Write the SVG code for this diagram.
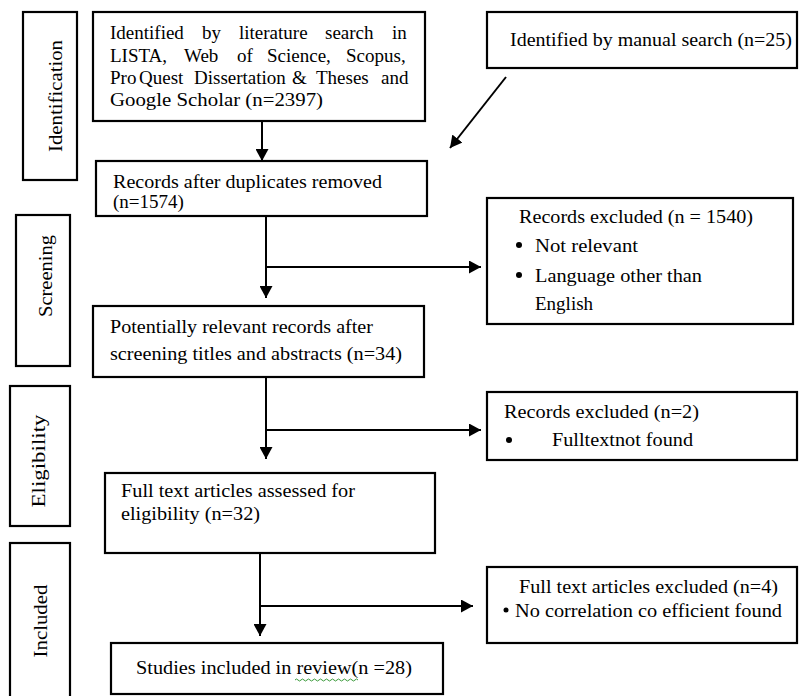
<svg xmlns="http://www.w3.org/2000/svg" width="799" height="696" viewBox="0 0 799 696">
<defs>
<style>
.box{fill:#fff;stroke:#000;stroke-width:2.2}
.conn{stroke:#000;stroke-width:2;fill:none}
</style>
<marker id="ah" markerUnits="userSpaceOnUse" markerWidth="13" markerHeight="13" refX="12" refY="6.5" orient="auto">
<path d="M0,0 L12,6.5 L0,13 z" fill="#000"/>
</marker>
</defs>
<rect width="799" height="696" fill="#fff"/>

<g id="stage-identification">
<rect class="box" x="23" y="12" width="54" height="168"/>
<text font-family="'Liberation Serif', serif" font-size="19" transform="translate(62,96) rotate(-90)" text-anchor="middle" textLength="112" lengthAdjust="spacingAndGlyphs">Identification</text>
</g>
<g id="stage-screening">
<rect class="box" x="16" y="215" width="54" height="151"/>
<text font-family="'Liberation Serif', serif" font-size="19" transform="translate(52,276) rotate(-90)" text-anchor="middle" textLength="82" lengthAdjust="spacingAndGlyphs">Screening</text>
</g>
<g id="stage-eligibility">
<rect class="box" x="10" y="386" width="60" height="140"/>
<text font-family="'Liberation Serif', serif" font-size="19" transform="translate(45,461) rotate(-90)" text-anchor="middle" textLength="93" lengthAdjust="spacingAndGlyphs">Eligibility</text>
</g>
<g id="stage-included">
<rect class="box" x="10" y="543" width="60" height="165"/>
<text font-family="'Liberation Serif', serif" font-size="19" transform="translate(47,621) rotate(-90)" text-anchor="middle" textLength="73" lengthAdjust="spacingAndGlyphs">Included</text>
</g>

<g id="literature-search">
<rect class="box" x="93" y="12" width="332" height="109"/>
<text font-family="'Liberation Serif', serif" font-size="19" y="39"><tspan x="110">Identified</tspan><tspan x="202">by</tspan><tspan x="239">literature</tspan><tspan x="325">search</tspan><tspan x="392">in</tspan></text>
<text font-family="'Liberation Serif', serif" font-size="19" y="62"><tspan x="110">LISTA,</tspan><tspan x="184">Web</tspan><tspan x="237">of</tspan><tspan x="267">Science,</tspan><tspan x="346">Scopus,</tspan></text>
<text font-family="'Liberation Serif', serif" font-size="19" y="84"><tspan x="110">Pro</tspan><tspan x="139">Quest</tspan><tspan x="194">Dissertation</tspan><tspan x="292">&amp;</tspan><tspan x="316">Theses</tspan><tspan x="381">and</tspan></text>
<text font-family="'Liberation Serif', serif" font-size="19" x="110" y="106" textLength="213" lengthAdjust="spacingAndGlyphs">Google Scholar (n=2397)</text>
</g>

<g id="manual-search">
<rect class="box" x="487" y="12" width="310" height="56"/>
<text font-family="'Liberation Serif', serif" font-size="19" x="510" y="46" textLength="282" lengthAdjust="spacingAndGlyphs">Identified by manual search (n=25)</text>
</g>

<g id="duplicates-removed">
<rect class="box" x="96" y="161" width="331" height="55"/>
<text font-family="'Liberation Serif', serif" font-size="19" x="113" y="188" textLength="269" lengthAdjust="spacingAndGlyphs">Records after duplicates removed</text>
<text font-family="'Liberation Serif', serif" font-size="19" x="113" y="208">(n=1574)</text>
</g>

<g id="records-excluded-1540">
<rect class="box" x="487" y="198" width="306" height="126"/>
<text font-family="'Liberation Serif', serif" font-size="19" x="519" y="223" textLength="234" lengthAdjust="spacingAndGlyphs">Records excluded (n = 1540)</text>
<circle cx="519" cy="245" r="3"/>
<text font-family="'Liberation Serif', serif" font-size="19" x="535" y="252" textLength="103" lengthAdjust="spacingAndGlyphs">Not relevant</text>
<circle cx="519" cy="275" r="3"/>
<text font-family="'Liberation Serif', serif" font-size="19" x="535" y="282" textLength="167" lengthAdjust="spacingAndGlyphs">Language other than</text>
<text font-family="'Liberation Serif', serif" font-size="19" x="535" y="310">English</text>
</g>

<g id="potentially-relevant">
<rect class="box" x="93" y="306" width="331" height="71"/>
<text font-family="'Liberation Serif', serif" font-size="19" x="110" y="333" textLength="263" lengthAdjust="spacingAndGlyphs">Potentially relevant records after</text>
<text font-family="'Liberation Serif', serif" font-size="19" x="110" y="360" textLength="292" lengthAdjust="spacingAndGlyphs">screening titles and abstracts (n=34)</text>
</g>

<g id="records-excluded-2">
<rect class="box" x="487" y="392" width="310" height="68"/>
<text font-family="'Liberation Serif', serif" font-size="19" x="504" y="418" textLength="195" lengthAdjust="spacingAndGlyphs">Records excluded (n=2)</text>
<circle cx="509" cy="440" r="3"/>
<text font-family="'Liberation Serif', serif" font-size="19" x="552" y="446" textLength="141" lengthAdjust="spacingAndGlyphs">Fulltextnot found</text>
</g>

<g id="full-text-assessed">
<rect class="box" x="105" y="473" width="330" height="80"/>
<text font-family="'Liberation Serif', serif" font-size="19" x="121" y="497" textLength="234" lengthAdjust="spacingAndGlyphs">Full text articles assessed for</text>
<text font-family="'Liberation Serif', serif" font-size="19" x="121" y="520" textLength="139" lengthAdjust="spacingAndGlyphs">eligibility (n=32)</text>
</g>

<g id="full-text-excluded">
<rect class="box" x="487" y="567" width="310" height="76"/>
<text font-family="'Liberation Serif', serif" font-size="19" x="519" y="593" textLength="259" lengthAdjust="spacingAndGlyphs">Full text articles excluded (n=4)</text>
<circle cx="506" cy="610" r="2.5"/>
<text font-family="'Liberation Serif', serif" font-size="19" x="515" y="617" textLength="267" lengthAdjust="spacingAndGlyphs">No correlation co efficient found</text>
</g>

<g id="studies-included">
<rect class="box" x="111" y="643" width="332" height="51"/>
<text font-family="'Liberation Serif', serif" font-size="19" x="136" y="674" textLength="276" lengthAdjust="spacingAndGlyphs">Studies included in review(n =28)</text>
<path d="M295,680 q1.5,-2 3,0 t3,0 t3,0 t3,0 t3,0 t3,0 t3,0 t3,0 t3,0 t3,0 t3,0 t3,0 t3,0 t3,0 t3,0 t3,0 t3,0 t3,0 t3,0 t3,0 t3,0" fill="none" stroke="#3a9a3a" stroke-width="1"/>
</g>

<g id="connectors">
<line class="conn" x1="262" y1="121" x2="262" y2="161" marker-end="url(#ah)"/>
<line class="conn" x1="506" y1="77" x2="450" y2="148" marker-end="url(#ah)"/>
<line class="conn" x1="266" y1="216" x2="266" y2="298" marker-end="url(#ah)"/>
<line class="conn" x1="266" y1="267" x2="481" y2="267" marker-end="url(#ah)"/>
<line class="conn" x1="266" y1="377" x2="266" y2="459" marker-end="url(#ah)"/>
<line class="conn" x1="266" y1="430" x2="481" y2="430" marker-end="url(#ah)"/>
<line class="conn" x1="260" y1="553" x2="260" y2="636" marker-end="url(#ah)"/>
<line class="conn" x1="260" y1="606" x2="473" y2="606" marker-end="url(#ah)"/>
</g>
</svg>
